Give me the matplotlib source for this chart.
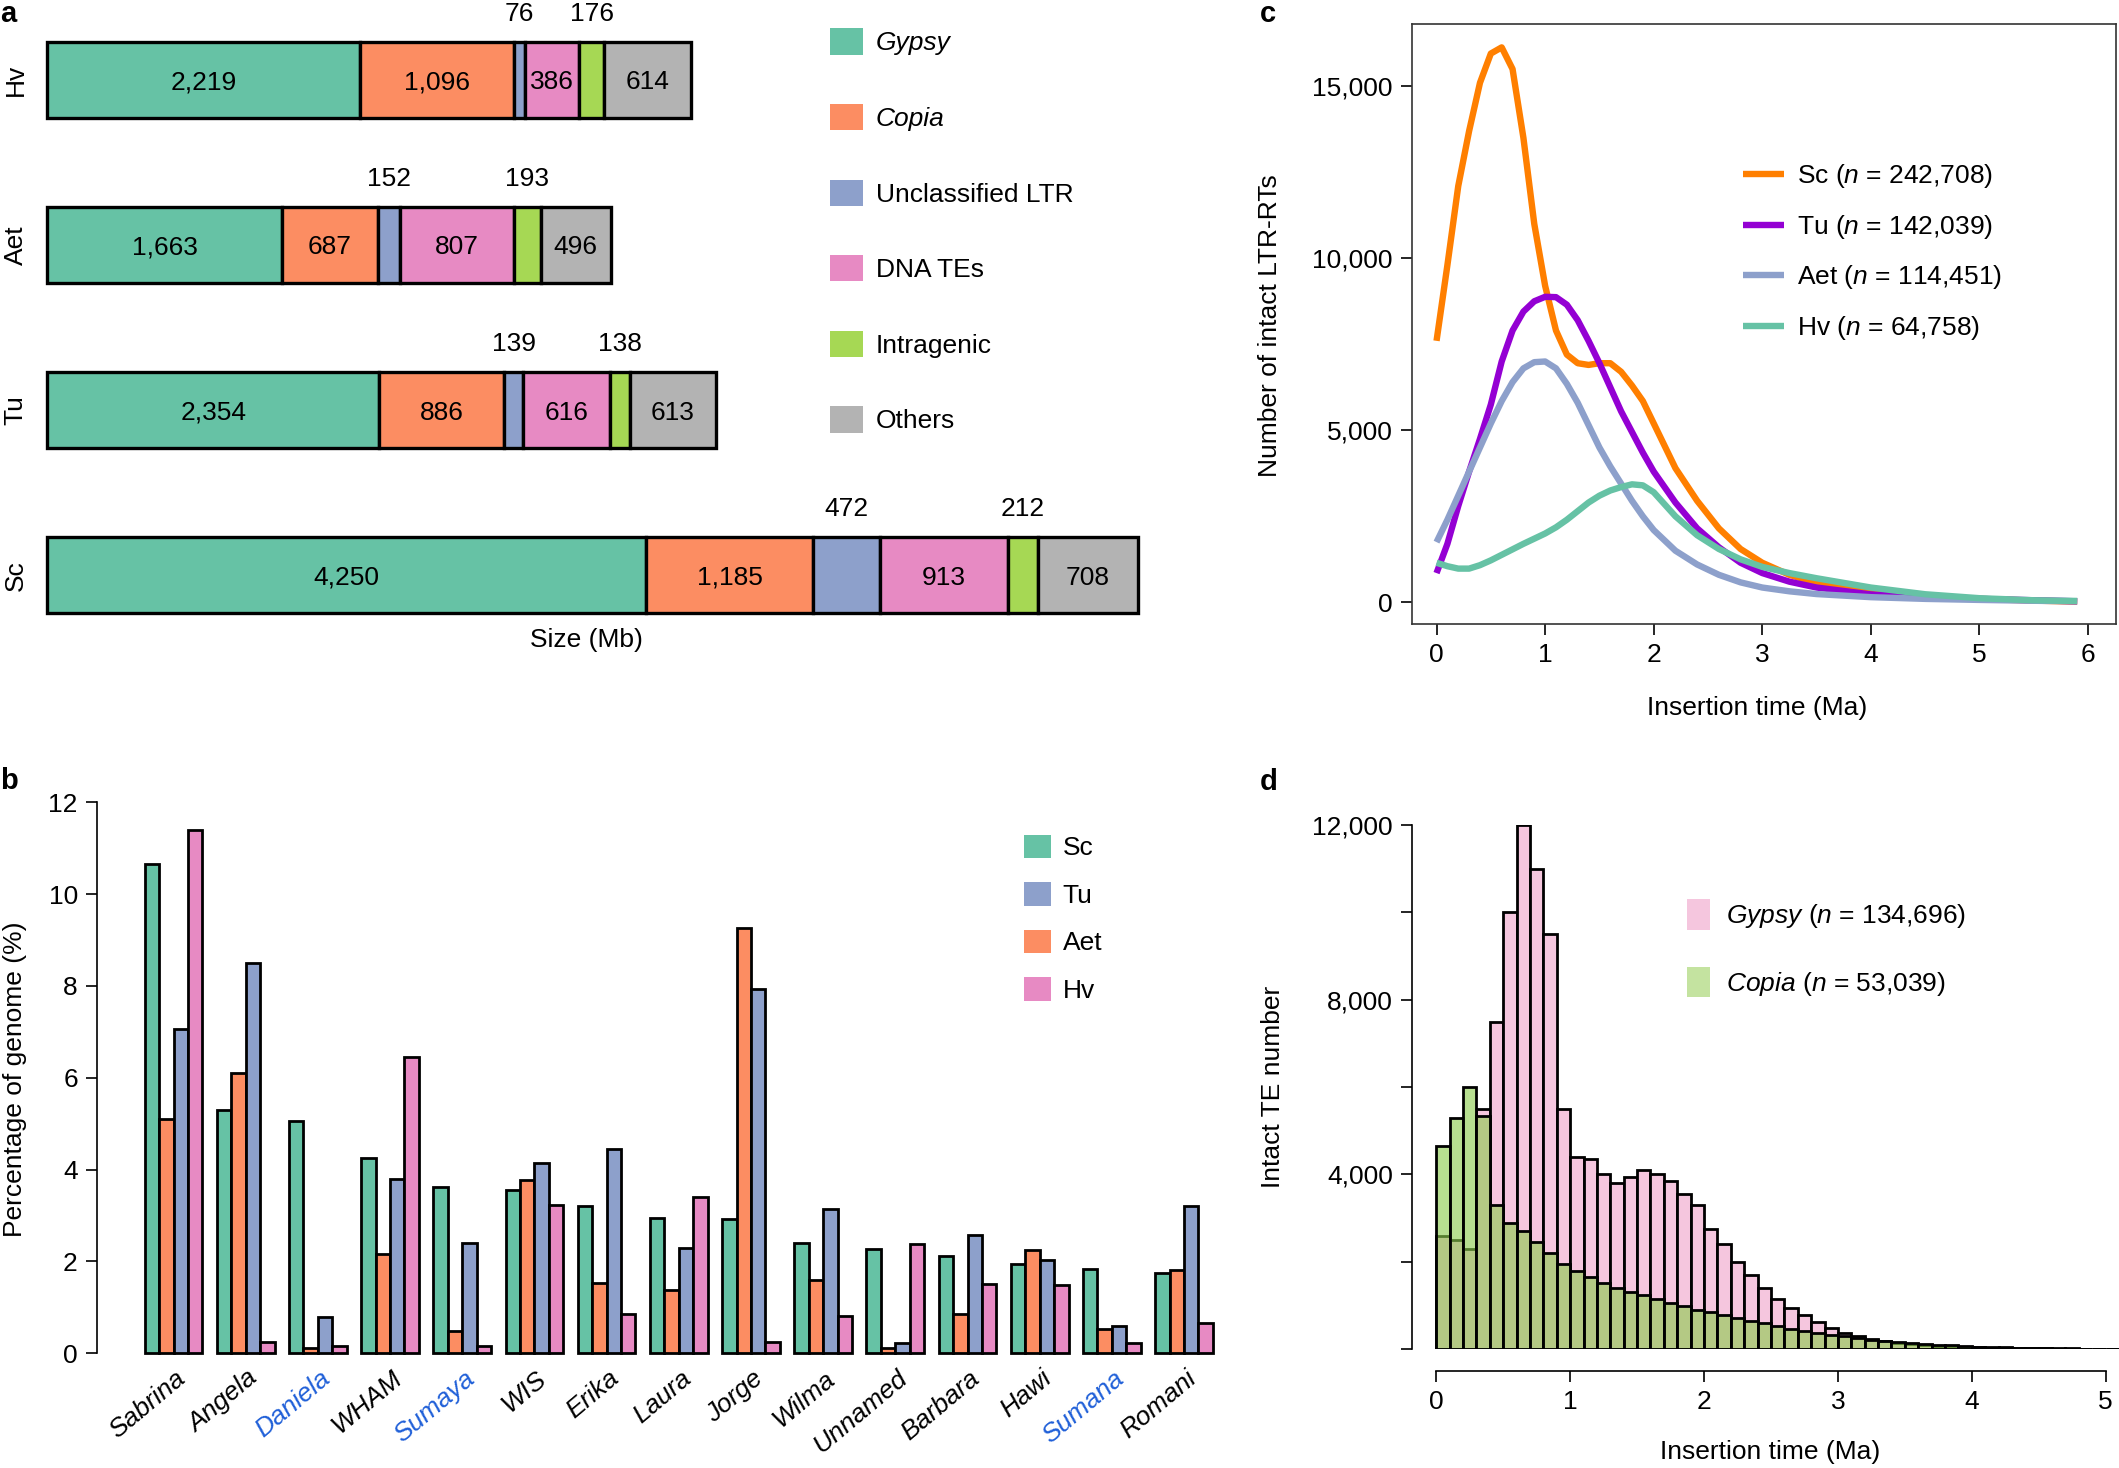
import numpy as np
import matplotlib.pyplot as plt
import matplotlib.transforms as mtransforms
from matplotlib.patches import Patch

plt.rcParams['font.family'] = ['Liberation Sans', 'DejaVu Sans']
plt.rcParams['mathtext.fontset'] = 'custom'
plt.rcParams['mathtext.rm'] = 'Liberation Sans'
plt.rcParams['mathtext.it'] = 'Liberation Sans:italic'
plt.rcParams['font.size'] = 19

# ---- panel a: genome composition (Mb) ----
genomes_a = ['Hv', 'Aet', 'Tu', 'Sc']
te_classes = ['Gypsy', 'Copia', 'Unclassified LTR', 'DNA TEs', 'Intragenic', 'Others']
gypsy_mb = [2219, 1663, 2354, 4250]
copia_mb = [1096, 687, 886, 1185]
unclass_mb = [76, 152, 139, 472]
dna_mb = [386, 807, 616, 913]
intragenic_mb = [176, 193, 138, 212]
others_mb = [614, 496, 613, 708]
class_colors = ['#66C2A5', '#FC8D62', '#8DA0CB', '#E78AC3', '#A6D854', '#B3B3B3']
label_above = [False, False, True, False, True, False]

# ---- panel b: percentage of genome per family ----
cultivars = ['Sabrina', 'Angela', 'Daniela', 'WHAM', 'Sumaya', 'WIS', 'Erika', 'Laura',
             'Jorge', 'Wilma', 'Unnamed', 'Barbara', 'Hawi', 'Sumana', 'Romani']
blue_names = ['Daniela', 'Sumaya', 'Sumana']
pct_sc = [10.65, 5.3, 5.05, 4.25, 3.62, 3.55, 3.2, 2.95, 2.92, 2.4, 2.27, 2.12, 1.95, 1.83, 1.75]
pct_aet = [5.1, 6.1, 0.12, 2.15, 0.48, 3.78, 1.52, 1.38, 9.27, 1.6, 0.12, 0.85, 2.25, 0.52, 1.82]
pct_tu = [7.05, 8.5, 0.78, 3.8, 2.4, 4.15, 4.45, 2.3, 7.93, 3.15, 0.22, 2.58, 2.02, 0.6, 3.2]
pct_hv = [11.4, 0.25, 0.15, 6.45, 0.15, 3.22, 0.85, 3.4, 0.25, 0.8, 2.37, 1.5, 1.48, 0.22, 0.65]

# ---- panel c: insertion time density of intact LTR-RTs ----
time_c = [0, 0.1, 0.2, 0.3, 0.4, 0.5, 0.6, 0.7, 0.8, 0.9, 1.0, 1.1, 1.2, 1.3, 1.4, 1.5, 1.6,
          1.7, 1.8, 1.9, 2.0, 2.2, 2.4, 2.6, 2.8, 3.0, 3.25, 3.5, 4.0, 4.5, 5.0, 5.5, 5.9]
ltr_sc = [7600, 9800, 12100, 13700, 15100, 15950, 16130, 15500, 13500, 11000, 9200, 7900, 7200,
          6950, 6900, 6950, 6950, 6700, 6300, 5850, 5200, 3900, 2950, 2150, 1550, 1150, 800, 560,
          300, 180, 100, 50, 20]
ltr_tu = [850, 1700, 2800, 3800, 4750, 5750, 7000, 7900, 8450, 8750, 8880, 8870, 8650, 8200,
          7600, 6950, 6250, 5550, 4950, 4350, 3800, 2900, 2150, 1600, 1150, 850, 600, 430, 230,
          150, 100, 60, 30]
ltr_aet = [1750, 2400, 3100, 3800, 4500, 5200, 5850, 6400, 6800, 6980, 7000, 6800, 6350, 5800,
           5150, 4500, 3950, 3450, 2950, 2500, 2100, 1500, 1100, 800, 580, 430, 320, 240, 150,
           100, 70, 45, 30]
ltr_hv = [1150, 1050, 980, 980, 1080, 1220, 1380, 1540, 1700, 1850, 2000, 2180, 2400, 2650,
          2900, 3100, 3250, 3350, 3430, 3400, 3200, 2500, 1950, 1550, 1250, 1030, 850, 700, 430,
          235, 120, 60, 40]
c_labels = [r'Sc ($\it{n}$ = 242,708)', r'Tu ($\it{n}$ = 142,039)',
            r'Aet ($\it{n}$ = 114,451)', r'Hv ($\it{n}$ = 64,758)']
c_colors = ['#FF7F00', '#9400D3', '#8DA0CB', '#66C2A5']

# ---- panel d: histogram of insertion time (0.1 Ma bins) ----
bin_width = 0.1
gypsy_counts = [2600, 2500, 2300, 5500, 7500, 10000, 12000, 11000, 9500, 5500, 4400, 4350, 4000,
                3800, 3950, 4100, 4000, 3850, 3550, 3300, 2750, 2400, 2000, 1700, 1400, 1150, 950,
                780, 620, 480, 380, 300, 240, 190, 150, 120, 100, 80, 65, 50, 40, 35, 30, 25, 20,
                18, 15, 12, 10, 8, 6]
copia_counts = [4650, 5300, 6000, 5350, 3300, 2900, 2700, 2450, 2200, 1950, 1800, 1650, 1520,
                1400, 1300, 1230, 1150, 1060, 980, 900, 850, 780, 720, 650, 590, 530, 470, 420,
                370, 330, 290, 250, 220, 190, 160, 140, 120, 100, 85, 70, 60, 50, 40, 35, 30, 25,
                20, 18, 15, 12, 10]

W, H = 1568.0, 1087.0


def box(x0, y0, x1, y1):
    return [x0 / W, 1 - y1 / H, (x1 - x0) / W, (y1 - y0) / H]


def thousands(v):
    return '{:,}'.format(int(v))


fig = plt.figure(figsize=(21.19, 14.68), dpi=100)

# ================= a =================
ax = fig.add_axes(box(35, 20, 842, 465))
sizes = np.array([gypsy_mb, copia_mb, unclass_mb, dna_mb, intragenic_mb, others_mb])
rows = np.arange(len(genomes_a))
left = np.zeros(len(rows))
for i in range(len(te_classes)):
    ax.barh(rows, sizes[i], left=left, height=0.46, color=class_colors[i],
            edgecolor='black', linewidth=2.4, clip_on=False)
    for r in rows:
        xc = left[r] + sizes[i][r] / 2.0
        if label_above[i]:
            ax.text(xc, r - 0.40, thousands(sizes[i][r]), ha='center', va='center')
        else:
            ax.text(xc, r, thousands(sizes[i][r]), ha='center', va='center_baseline')
    left += sizes[i]
ax.set_xlim(0, sizes.sum(axis=0).max())
ax.set_ylim(3.319, -0.319)
for s in ax.spines.values():
    s.set_visible(False)
ax.set_xticks([])
ax.set_yticks(rows, labels=genomes_a, rotation=90, va='center')
ax.tick_params(axis='y', length=0, pad=14)
fig.text(434 / W, 1 - 474 / H, 'Size (Mb)', ha='center', va='center')

leg = fig.legend(handles=[Patch(facecolor=c, edgecolor='none') for c in class_colors],
                 labels=te_classes, loc='upper left', bbox_to_anchor=(614 / W, 1 - 21 / H),
                 frameon=False, fontsize=19, handlelength=1.25, handleheight=1.15,
                 handletextpad=0.5, labelspacing=1.84, borderpad=0, borderaxespad=0)
for t in leg.get_texts()[:2]:
    t.set_style('italic')

# ================= b =================
ax = fig.add_axes(box(72, 594, 905, 1002))
series_b = [pct_sc, pct_aet, pct_tu, pct_hv]
colors_b = ['#66C2A5', '#FC8D62', '#8DA0CB', '#E78AC3']
grp = np.arange(len(cultivars)) * 5
for k in range(4):
    ax.bar(grp + 1.5 + k, series_b[k], width=1.0, color=colors_b[k],
           edgecolor='black', linewidth=2.0, clip_on=False)
ax.set_xlim(-2.28, 75.7)
ax.set_ylim(0, 12)
for side in ['top', 'right', 'bottom']:
    ax.spines[side].set_visible(False)
ax.spines['left'].set_linewidth(1.2)
ax.set_yticks([0, 2, 4, 6, 8, 10, 12])
ax.tick_params(axis='y', length=8, width=1.2, pad=6)
ax.set_xticks(grp + 3, labels=cultivars, rotation=40, ha='right', va='center',
              rotation_mode='anchor', style='italic')
ax.tick_params(axis='x', length=0, pad=16)
shift = mtransforms.ScaledTranslation(0.09, 0, fig.dpi_scale_trans)
for lab in ax.get_xticklabels():
    lab.set_transform(lab.get_transform() + shift)
    if lab.get_text() in blue_names:
        lab.set_color('#1F5FD8')
fig.text(11 / W, 1 - 799 / H, 'Percentage of genome (%)', rotation=90, ha='center', va='center')
order_b = [0, 2, 1, 3]
fig.legend(handles=[Patch(facecolor=colors_b[k], edgecolor='none') for k in order_b],
           labels=['Sc', 'Tu', 'Aet', 'Hv'], loc='upper left',
           bbox_to_anchor=(758 / W, 1 - 618 / H), frameon=False, fontsize=19,
           handlelength=1.0, handleheight=1.0, handletextpad=0.45, labelspacing=0.82,
           borderpad=0, borderaxespad=0)

# ================= c =================
ax = fig.add_axes(box(1045, 18, 1566, 462))
for ys, col, lab in zip([ltr_sc, ltr_tu, ltr_aet, ltr_hv], c_colors, c_labels):
    ax.plot(time_c, ys, color=col, linewidth=4.6, label=lab, solid_capstyle='butt')
ax.set_xlim(-0.224, 6.26)
ax.set_ylim(-628, 16800)
ax.set_xticks(range(0, 7))
ax.set_yticks([0, 5000, 10000, 15000], labels=[thousands(v) for v in [0, 5000, 10000, 15000]])
ax.tick_params(length=8, width=1.2, pad=6)
for s in ax.spines.values():
    s.set_linewidth(1.2)
    s.set_color('#333333')
ax.legend(loc='upper left', bbox_to_anchor=((1290 - 1045) / 521.0, (462 - 120) / 444.0),
          frameon=False, fontsize=19, handlelength=1.55, handletextpad=0.5,
          labelspacing=0.86, borderpad=0, borderaxespad=0)
fig.text(940 / W, 1 - 241 / H, 'Number of intact LTR-RTs', rotation=90, ha='center', va='center')
fig.text(1300 / W, 1 - 524 / H, 'Insertion time (Ma)', ha='center', va='center')

# ================= d =================
ax = fig.add_axes(box(1045, 611, 1568, 999))
bins = np.arange(len(gypsy_counts)) * bin_width
ax.bar(bins, gypsy_counts, width=bin_width, align='edge', color='#F5C6DE',
       edgecolor='black', linewidth=2.0)
ax.bar(bins, copia_counts, width=bin_width, align='edge', color=(0.55, 0.80, 0.30, 0.62),
       edgecolor='black', linewidth=2.0)
ax.set_xlim(-0.18, 5.1)
ax.set_ylim(0, 12000)
for side in ['top', 'right']:
    ax.spines[side].set_visible(False)
ax.spines['bottom'].set_position(('outward', 15.6))
ax.spines['bottom'].set_bounds(0, 5)
ax.spines['left'].set_bounds(0, 12000)
for s in ax.spines.values():
    s.set_linewidth(1.2)
ax.set_xticks(range(0, 6))
yt = list(range(0, 12001, 2000))
ax.set_yticks(yt, labels=[thousands(v) if v in (4000, 8000, 12000) else '' for v in yt])
ax.tick_params(length=8, width=1.2, pad=6)
fig.legend(handles=[Patch(facecolor='#F5C6DE', edgecolor='none'),
                    Patch(facecolor='#C4E3A0', edgecolor='none')],
           labels=[r'$\it{Gypsy}$ ($\it{n}$ = 134,696)', r'$\it{Copia}$ ($\it{n}$ = 53,039)'],
           loc='upper left', bbox_to_anchor=(1248 / W, 1 - 666 / H), frameon=False,
           fontsize=19, handlelength=0.9, handleheight=1.4, handletextpad=0.6,
           labelspacing=1.38, borderpad=0, borderaxespad=0)
fig.text(942 / W, 1 - 805 / H, 'Intact TE number', rotation=90, ha='center', va='center')
fig.text(1310 / W, 1 - 1075 / H, 'Insertion time (Ma)', ha='center', va='center')

# panel letters
for letter, (px, py) in zip('abcd', [(0, 0), (0, 568), (932, 0), (932, 569)]):
    fig.text(px / W, 1 - py / H, letter, fontsize=21, fontweight='bold', ha='left', va='top')

fig.savefig('out.png', dpi=100)
